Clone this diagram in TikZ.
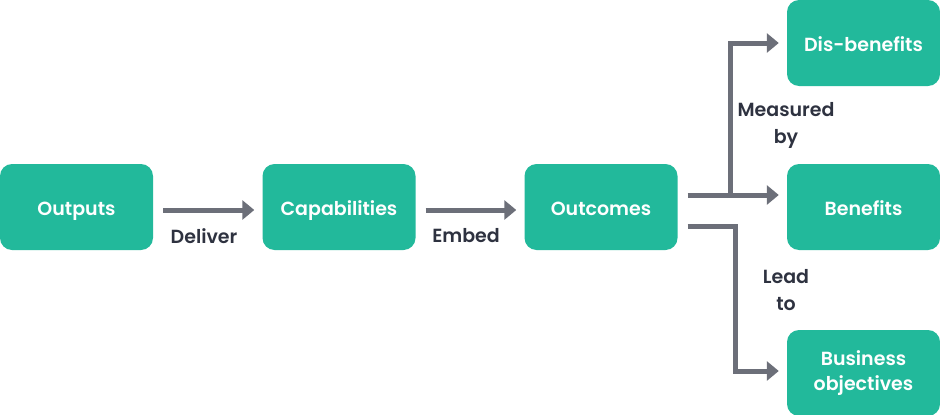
\documentclass[tikz,border=0pt]{standalone}
\usepackage{fontspec}
\setmainfont{Poppins}[UprightFont=* SemiBold]
\usetikzlibrary{arrows.meta,calc}
\definecolor{boxteal}{HTML}{22B99B}
\definecolor{arrgray}{HTML}{6C6F79}
\definecolor{labeldark}{HTML}{2E3240}
% lower a one-line caption without changing its apparent size
\newcommand{\lowered}[1]{\raisebox{-3pt}[14pt][4pt]{#1}}
\tikzset{
  stage/.style={fill=boxteal, rounded corners=12pt, minimum width=153pt, minimum height=86pt,
    text=white, align=center, font=\fontsize{19}{24.5}\selectfont, inner sep=0pt},
  flow/.style={draw=arrgray, line width=5pt, line join=miter,
    -{Triangle[length=12pt,width=19pt]}},
  tag/.style={text=labeldark, align=center, font=\fontsize{19}{27}\selectfont, inner sep=0pt}
}
\begin{document}
\begin{tikzpicture}[x=1pt,y=-1pt]
  \useasboundingbox (0,0) rectangle (940,415);
  % stages
  \node[stage] (outp) at (76.5,207) {\lowered{Outputs}};
  \node[stage] (capa) at (339,207) {\lowered{Capabilities}};
  \node[stage] (outc) at (601,207) {\lowered{Outcomes}};
  \node[stage] (dis)  at (863.5,43) {\lowered{Dis-benefits}};
  \node[stage] (ben)  at (863.5,207) {\lowered{Benefits}};
  \node[stage] (bus)  at (863.5,373) {Business\\objectives};
  % main chain
  \draw[flow] ($(outp.east)+(10,3)$) -- ($(capa.west)+(-8,3)$);
  \draw[flow] ($(capa.east)+(10,3)$) -- ($(outc.west)+(-8,3)$);
  % outcomes measured by benefits and dis-benefits
  \coordinate (mstart) at ($(outc.east)+(10,-12)$);
  \coordinate (mfork) at ($(outc.east)+(53,-12)$);
  \draw[flow] (mstart) -- ($(ben.west)+(-8,-12)$);
  \draw[flow] (mfork) |- ($(dis.west)+(-8,0)$);
  % outcomes lead to business objectives
  \coordinate (lstart) at ($(outc.east)+(10,19)$);
  \coordinate (lturn) at ($(outc.east)+(58,19)$);
  \draw[flow] (lstart) -- (lturn) |- ($(bus.west)+(-8,-2)$);
  % labels
  \node[tag] (ldel) at (204,236) {Deliver};
  \node[tag] (lemb) at (466,236) {Embed};
  \node[tag] (lmea) at (786,125) {Measured\\by};
  \node[tag] (llea) at (786,290) {Lead\\to};
\end{tikzpicture}
\end{document}
